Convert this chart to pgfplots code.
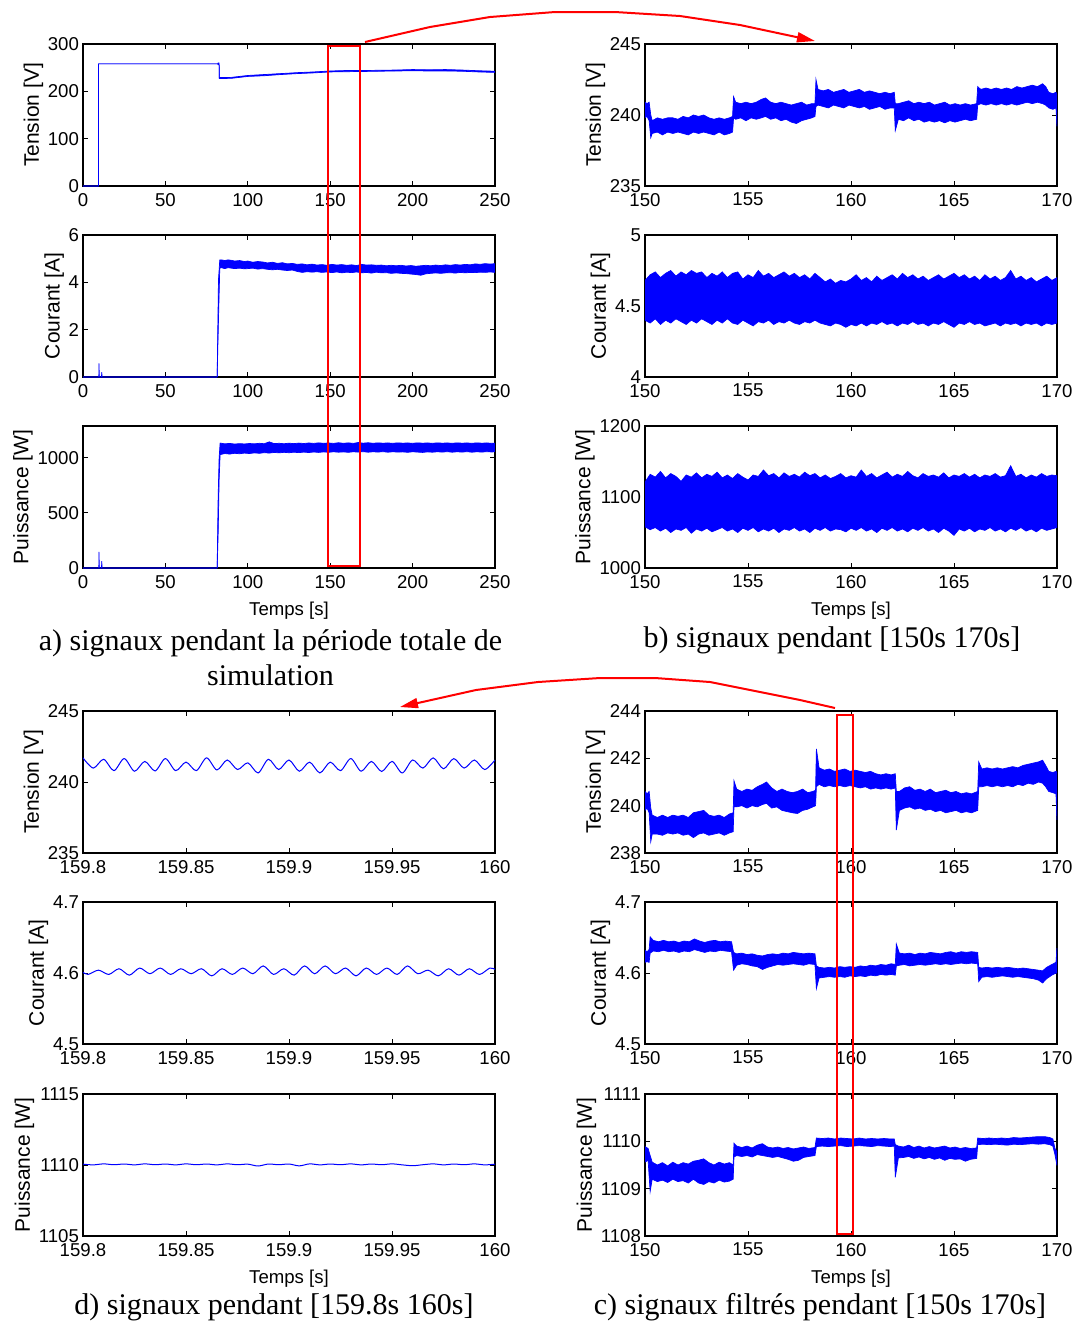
\documentclass[border=0pt]{standalone}
\usepackage{fontspec}
\setmainfont{Liberation Sans}
\newfontfamily\capfont{Liberation Serif}
\usepackage{pgfplots}
\usepackage{pgfplotstable}
\pgfplotsset{compat=1.18}
\usepgfplotslibrary{fillbetween}
\usetikzlibrary{arrows.meta}

\pgfplotsset{
  mat/.style={
    scale only axis, width=206pt, height=71pt, anchor=north west,
    axis line style={line width=0.6pt},
    tick align=inside, major tick length=2.5pt,
    every tick/.style={black, line width=0.5pt},
    ticklabel style={font=\fontsize{9.3}{11}\selectfont},
    yticklabel style={xshift=1.5pt},
    ylabel style={font=\fontsize{10.5}{12}\selectfont, yshift=-4.5pt},
    xlabel style={font=\fontsize{9.3}{11}\selectfont},
    scaled ticks=false,
    /pgf/number format/assume math mode=true,
    /pgf/number format/1000 sep={},
    /pgf/number format/fixed,
  },
}
\newcommand{\band}[1]{%
  \addplot[blue, line width=0.35pt, name path=H] table[x=t,y=h]{#1};
  \addplot[blue, line width=0.35pt, name path=L] table[x=t,y=l]{#1};
  \addplot[blue] fill between[of=H and L];
}

% ---------------- panel a ----------------
\pgfplotstableread{
t h l
0 0 0
9.4 0 0
9.45 258 258
81.8 258 258
82.0 260 256
82.6 260 256
82.7 229 227
90 229.5 227.5
100 233.5 231.5
110 235.5 233
120 237.5 235.5
130 239.5 237.5
140 241 239
150 243 241
160 244 241.5
170 244 242
180 244.5 242.5
190 245 243
200 246 243.5
210 245.5 243
220 246 243
230 245 242.5
240 243.5 241
250 242.5 240
}\aT
\pgfplotstableread{
t h l
0 0 0
9.6 0 0
9.7 0.58 0
9.9 0 0
11.2 0 0
11.4 0.2 0
11.6 0 0
81.4 0 0
82.2 4.1 2.4
83.0 4.95 4.6
84 4.95 4.62
86 4.92 4.58
88 4.95 4.62
90 4.93 4.6
92 4.9 4.58
95 4.92 4.6
98 4.88 4.57
100 4.9 4.58
103 4.85 4.6
106 4.88 4.56
109 4.86 4.58
112 4.82 4.55
115 4.85 4.53
118 4.8 4.55
121 4.83 4.52
124 4.78 4.5
127 4.8 4.52
130 4.76 4.46
133 4.78 4.42
136 4.74 4.45
139 4.77 4.43
142 4.73 4.45
145 4.75 4.42
148 4.72 4.44
151 4.76 4.41
154 4.73 4.44
157 4.75 4.4
160 4.72 4.43
163 4.74 4.41
166 4.71 4.44
169 4.76 4.4
172 4.73 4.42
175 4.74 4.39
178 4.72 4.43
181 4.73 4.4
184 4.7 4.41
187 4.72 4.38
190 4.7 4.4
193 4.72 4.38
196 4.69 4.37
199 4.71 4.35
202 4.68 4.33
205 4.7 4.3
208 4.72 4.36
211 4.7 4.38
214 4.73 4.4
217 4.71 4.38
220 4.74 4.4
223 4.72 4.41
226 4.75 4.39
229 4.73 4.42
232 4.76 4.4
235 4.74 4.42
238 4.78 4.41
241 4.76 4.43
244 4.79 4.42
247 4.77 4.44
250 4.79 4.42
}\aC
\pgfplotstableread{
t h l
0 0 0
9.6 0 0
9.7 147 0
9.9 0 0
11.2 0 0
11.4 62 0
11.6 0 0
81.4 0 0
82.0 640 300
82.6 1000 800
83.2 1135 1030
86 1128 1040
89 1132 1035
92 1126 1042
95 1130 1038
98 1127 1044
101 1131 1040
104 1128 1046
107 1133 1042
110 1129 1048
113 1146 1044
116 1130 1050
119 1133 1046
122 1129 1051
125 1134 1047
128 1130 1052
131 1135 1048
134 1131 1053
137 1136 1049
140 1132 1054
143 1137 1050
146 1133 1055
149 1136 1051
152 1132 1056
155 1138 1052
158 1133 1055
161 1137 1051
164 1132 1056
167 1140 1053
170 1134 1057
173 1138 1052
176 1133 1056
179 1137 1053
182 1134 1057
185 1136 1052
188 1133 1056
191 1137 1053
194 1134 1055
197 1136 1051
200 1133 1056
203 1137 1053
206 1134 1050
209 1136 1055
212 1133 1052
215 1137 1056
218 1134 1053
221 1136 1057
224 1133 1052
227 1137 1056
230 1134 1053
233 1136 1057
236 1133 1052
239 1137 1056
242 1134 1053
245 1136 1057
248 1133 1054
250 1135 1056
}\aP

% ---------------- panel b ----------------
\pgfplotstableread{
t h l
150.0 240.9 239.8
150.1 240.8 239.9
150.2 240.9 239.6
150.28 240.0 238.4
150.35 239.6 238.7
150.6 239.8 238.8
150.85 239.7 238.6
151.1 239.8 238.8
151.35 239.8 238.7
151.6 239.7 238.8
151.85 239.9 238.7
152.1 239.8 238.6
152.35 240.0 238.8
152.6 239.9 238.7
152.85 240.0 238.8
153.1 239.8 238.7
153.35 239.7 238.6
153.6 239.8 238.8
153.85 239.7 238.6
154.1 239.8 238.7
154.25 239.9 238.8
154.3 241.3 239.8
154.4 240.9 239.7
154.65 240.8 239.8
154.9 240.9 239.6
155.15 240.8 239.8
155.4 240.9 239.7
155.65 241.1 239.8
155.85 241.2 239.9
156.1 240.9 239.7
156.35 240.8 239.8
156.6 240.9 239.6
156.85 240.8 239.7
157.1 240.7 239.5
157.35 240.8 239.4
157.6 240.9 239.6
157.85 240.7 239.7
158.1 240.8 239.8
158.25 240.8 239.9
158.3 242.5 240.6
158.4 241.8 240.7
158.65 241.7 240.6
158.9 241.8 240.5
159.15 241.6 240.7
159.4 241.7 240.6
159.65 241.8 240.5
159.9 241.6 240.7
160.15 241.7 240.6
160.4 241.8 240.5
160.65 241.6 240.6
160.9 241.7 240.4
161.15 241.6 240.5
161.4 241.5 240.6
161.65 241.6 240.4
161.9 241.5 240.5
162.1 241.6 240.5
162.15 240.8 238.9
162.3 240.8 239.7
162.55 240.9 239.6
162.8 241.0 239.8
163.05 240.8 239.6
163.3 240.9 239.7
163.55 240.8 239.5
163.8 240.9 239.6
164.05 240.7 239.5
164.3 240.8 239.6
164.55 240.9 239.45
164.8 240.7 239.6
165.05 240.8 239.5
165.3 240.7 239.6
165.55 240.8 239.7
165.8 240.7 239.6
166.1 240.8 239.7
166.15 242.0 240.7
166.3 241.8 240.8
166.55 241.9 240.7
166.8 241.8 240.8
167.05 241.9 240.7
167.3 241.8 240.8
167.55 241.9 240.7
167.8 241.8 240.8
168.05 242.0 240.7
168.3 241.9 240.8
168.55 242.0 240.9
168.8 242.1 240.8
169.05 242.0 240.9
169.3 242.2 240.8
169.45 242.0 240.7
169.6 241.6 240.5
169.8 241.5 240.4
169.95 241.6 240.5
170 241.4 239.2
}\bT
\pgfplotstableread{
t h l
150 4.68 4.40
150.25 4.72 4.38
150.5 4.74 4.41
150.75 4.70 4.37
151 4.73 4.40
151.25 4.75 4.38
151.5 4.71 4.41
151.75 4.74 4.39
152 4.72 4.37
152.25 4.75 4.40
152.5 4.73 4.38
152.75 4.74 4.41
153 4.70 4.39
153.25 4.73 4.37
153.5 4.71 4.40
153.75 4.74 4.38
154 4.70 4.41
154.25 4.73 4.38
154.5 4.74 4.37
154.75 4.69 4.40
155 4.72 4.38
155.25 4.70 4.36
155.5 4.75 4.39
155.75 4.71 4.38
156 4.73 4.40
156.25 4.70 4.37
156.5 4.72 4.39
156.75 4.74 4.38
157 4.71 4.40
157.25 4.73 4.38
157.5 4.70 4.37
157.75 4.72 4.39
158 4.69 4.38
158.25 4.73 4.40
158.5 4.70 4.38
158.75 4.67 4.37
159 4.69 4.36
159.25 4.66 4.38
159.5 4.68 4.37
159.75 4.67 4.35
160 4.69 4.37
160.25 4.72 4.36
160.5 4.68 4.38
160.75 4.70 4.36
161 4.67 4.38
161.25 4.71 4.37
161.5 4.68 4.39
161.75 4.70 4.37
162 4.72 4.38
162.25 4.69 4.36
162.5 4.73 4.38
162.75 4.70 4.37
163 4.72 4.39
163.25 4.69 4.37
163.5 4.71 4.38
163.75 4.68 4.36
164 4.70 4.38
164.25 4.72 4.37
164.5 4.69 4.39
164.75 4.71 4.37
165 4.73 4.35
165.25 4.70 4.38
165.5 4.72 4.37
165.75 4.69 4.39
166 4.71 4.37
166.25 4.68 4.38
166.5 4.72 4.36
166.75 4.69 4.37
167 4.71 4.38
167.25 4.68 4.36
167.5 4.70 4.38
167.75 4.75 4.37
168 4.69 4.38
168.25 4.71 4.36
168.5 4.68 4.38
168.75 4.70 4.37
169 4.67 4.38
169.25 4.69 4.36
169.5 4.71 4.38
169.75 4.68 4.37
170 4.70 4.38
}\bC
\pgfplotstableread{
t h l
150 1121 1058
150.25 1132 1054
150.5 1128 1057
150.75 1136 1052
151 1127 1056
151.25 1133 1050
151.5 1129 1055
151.75 1122 1053
152 1131 1057
152.25 1128 1049
152.5 1134 1055
152.75 1127 1052
153 1132 1056
153.25 1129 1051
153.5 1135 1054
153.75 1127 1057
154 1131 1052
154.25 1126 1055
154.5 1133 1050
154.75 1128 1056
155 1124 1053
155.25 1131 1057
155.5 1129 1051
155.75 1138 1055
156 1130 1052
156.25 1133 1056
156.5 1127 1050
156.75 1134 1055
157 1129 1053
157.25 1132 1057
157.5 1128 1052
157.75 1135 1055
158 1130 1050
158.25 1133 1056
158.5 1127 1053
158.75 1131 1057
159 1126 1052
159.25 1129 1055
159.5 1133 1054
159.75 1127 1051
160 1130 1056
160.25 1128 1053
160.5 1138 1057
160.75 1129 1052
161 1133 1055
161.25 1127 1050
161.5 1131 1056
161.75 1135 1053
162 1128 1057
162.25 1132 1052
162.5 1129 1055
162.75 1136 1051
163 1130 1056
163.25 1127 1053
163.5 1133 1057
163.75 1129 1052
164 1131 1055
164.25 1128 1050
164.5 1134 1056
164.75 1127 1052
165 1131 1046
165.25 1129 1055
165.5 1133 1052
165.75 1128 1056
166 1132 1051
166.25 1127 1055
166.5 1131 1053
166.75 1129 1057
167 1133 1052
167.25 1128 1055
167.5 1130 1051
167.75 1144 1056
168 1129 1053
168.25 1132 1057
168.5 1127 1052
168.75 1131 1055
169 1128 1051
169.25 1133 1056
169.5 1129 1053
169.75 1131 1055
170 1130 1057
}\bP

% ---------------- panel c ----------------
\pgfplotstableread{
t h l
150.0 240.6 239.8
150.1 240.5 239.9
150.2 240.6 239.7
150.28 239.9 238.48
150.35 239.6 238.8
150.6 239.5 238.8
150.85 239.6 238.75
151.1 239.5 238.85
151.35 239.6 238.8
151.6 239.55 238.85
151.85 239.6 238.75
152.1 239.5 238.8
152.35 239.7 238.65
152.6 239.75 238.8
152.85 239.8 238.85
153.1 239.6 238.75
153.35 239.55 238.8
153.6 239.6 238.85
153.85 239.5 238.75
154.1 239.65 238.85
154.28 239.7 238.9
154.32 241.05 239.95
154.45 240.7 239.95
154.7 240.6 240.0
154.95 240.7 239.9
155.2 240.65 240.0
155.45 240.8 239.95
155.7 240.9 240.05
155.9 241.0 240.1
156.15 240.75 239.9
156.4 240.6 239.95
156.65 240.7 239.8
156.9 240.6 239.75
157.15 240.55 239.7
157.4 240.6 239.67
157.65 240.7 239.8
157.9 240.55 239.85
158.15 240.6 239.95
158.28 240.65 240.0
158.32 242.4 240.8
158.45 241.6 240.9
158.7 241.5 240.8
158.95 241.55 240.85
159.2 241.45 240.8
159.45 241.5 240.85
159.7 241.55 240.8
159.95 241.45 240.85
160.2 241.5 240.8
160.45 241.45 240.75
160.7 241.4 240.8
160.95 241.45 240.7
161.2 241.35 240.75
161.45 241.3 240.7
161.7 241.35 240.75
161.95 241.3 240.7
162.15 241.35 240.75
162.2 240.6 238.97
162.35 240.6 239.8
162.6 240.75 239.9
162.85 240.8 239.95
163.1 240.65 239.85
163.35 240.7 239.9
163.6 240.6 239.8
163.85 240.7 239.85
164.1 240.55 239.75
164.35 240.6 239.8
164.6 240.65 239.7
164.85 240.55 239.75
165.1 240.6 239.8
165.35 240.5 239.7
165.6 240.55 239.75
165.85 240.5 239.7
166.15 240.6 239.8
166.2 241.85 240.8
166.35 241.55 240.8
166.6 241.6 240.85
166.85 241.55 240.8
167.1 241.6 240.85
167.35 241.55 240.8
167.6 241.6 240.85
167.85 241.65 240.8
168.1 241.6 240.9
168.35 241.7 240.85
168.6 241.75 240.95
168.85 241.8 240.9
169.1 241.85 241.0
169.3 241.92 240.95
169.45 241.7 240.8
169.6 241.45 240.6
169.8 241.4 240.55
169.95 241.45 240.5
170 241.4 239.4
}\cT
\pgfplotstableread{
t h l
150.0 4.632 4.615
150.1 4.630 4.616
150.2 4.633 4.615
150.25 4.651 4.628
150.4 4.646 4.631
150.65 4.644 4.630
150.9 4.646 4.632
151.15 4.644 4.630
151.4 4.645 4.631
151.65 4.643 4.629
151.9 4.645 4.631
152.15 4.644 4.630
152.4 4.648 4.633
152.65 4.645 4.631
152.9 4.643 4.629
153.15 4.645 4.631
153.4 4.646 4.630
153.65 4.644 4.632
153.9 4.645 4.631
154.2 4.644 4.630
154.3 4.629 4.604
154.45 4.627 4.611
154.7 4.628 4.613
154.95 4.626 4.612
155.2 4.627 4.610
155.45 4.625 4.609
155.7 4.624 4.605
155.95 4.626 4.608
156.2 4.627 4.610
156.45 4.626 4.612
156.7 4.628 4.611
156.95 4.627 4.612
157.2 4.629 4.613
157.45 4.628 4.612
157.7 4.627 4.611
157.95 4.628 4.613
158.25 4.627 4.612
158.32 4.610 4.578
158.45 4.608 4.593
158.7 4.607 4.594
158.95 4.608 4.595
159.2 4.607 4.594
159.45 4.609 4.595
159.7 4.608 4.594
159.95 4.609 4.596
160.2 4.608 4.595
160.45 4.610 4.596
160.7 4.609 4.595
160.95 4.611 4.597
161.2 4.610 4.596
161.45 4.612 4.598
161.7 4.611 4.597
161.95 4.613 4.598
162.15 4.612 4.597
162.2 4.641 4.610
162.35 4.628 4.611
162.6 4.627 4.612
162.85 4.628 4.610
163.1 4.626 4.611
163.35 4.628 4.612
163.6 4.627 4.611
163.85 4.629 4.612
164.1 4.628 4.613
164.35 4.627 4.612
164.6 4.629 4.613
164.85 4.630 4.612
165.1 4.628 4.613
165.35 4.630 4.614
165.6 4.629 4.613
165.85 4.630 4.614
166.15 4.629 4.613
166.2 4.608 4.588
166.35 4.607 4.594
166.6 4.608 4.595
166.85 4.607 4.594
167.1 4.608 4.595
167.35 4.607 4.596
167.6 4.608 4.595
167.85 4.607 4.594
168.1 4.606 4.595
168.35 4.607 4.594
168.6 4.606 4.593
168.85 4.605 4.592
169.1 4.604 4.590
169.3 4.603 4.586
169.5 4.608 4.592
169.75 4.612 4.597
169.95 4.615 4.600
170 4.635 4.600
}\cC
\pgfplotstableread{
t h l
150.0 1109.89 1109.56
150.15 1109.85 1109.6
150.25 1109.7 1108.94
150.35 1109.56 1109.2
150.6 1109.5 1109.15
150.85 1109.55 1109.18
151.1 1109.48 1109.13
151.35 1109.56 1109.2
151.6 1109.5 1109.15
151.85 1109.55 1109.17
152.1 1109.52 1109.12
152.35 1109.58 1109.2
152.6 1109.6 1109.12
152.85 1109.63 1109.09
153.1 1109.55 1109.15
153.35 1109.5 1109.12
153.6 1109.56 1109.18
153.85 1109.52 1109.14
154.1 1109.55 1109.16
154.28 1109.5 1109.2
154.32 1109.96 1109.67
154.45 1109.9 1109.7
154.7 1109.87 1109.68
154.95 1109.9 1109.7
155.2 1109.86 1109.67
155.45 1109.92 1109.72
155.7 1109.95 1109.7
155.95 1109.88 1109.68
156.2 1109.86 1109.66
156.45 1109.88 1109.68
156.7 1109.85 1109.65
156.95 1109.87 1109.62
157.2 1109.84 1109.58
157.45 1109.86 1109.6
157.7 1109.88 1109.66
157.95 1109.85 1109.68
158.25 1109.87 1109.7
158.32 1110.07 1109.89
158.6 1110.06 1109.9
158.9 1110.07 1109.89
159.2 1110.05 1109.9
159.5 1110.07 1109.91
159.8 1110.06 1109.89
160.1 1110.05 1109.9
160.4 1110.07 1109.91
160.7 1110.05 1109.9
161.0 1110.06 1109.89
161.3 1110.05 1109.91
161.6 1110.06 1109.9
161.9 1110.05 1109.89
162.1 1110.05 1109.9
162.15 1109.93 1109.24
162.3 1109.9 1109.65
162.55 1109.88 1109.66
162.8 1109.92 1109.68
163.05 1109.87 1109.64
163.3 1109.9 1109.67
163.55 1109.86 1109.63
163.8 1109.89 1109.66
164.05 1109.86 1109.62
164.3 1109.88 1109.65
164.55 1109.9 1109.6
164.8 1109.86 1109.64
165.05 1109.88 1109.62
165.3 1109.85 1109.63
165.55 1109.87 1109.58
165.8 1109.85 1109.62
166.1 1109.86 1109.64
166.15 1110.07 1109.93
166.4 1110.06 1109.94
166.7 1110.07 1109.93
167.0 1110.06 1109.94
167.3 1110.07 1109.93
167.6 1110.06 1109.92
167.9 1110.08 1109.94
168.2 1110.07 1109.93
168.5 1110.08 1109.94
168.8 1110.09 1109.95
169.1 1110.1 1109.94
169.4 1110.1 1109.95
169.65 1110.08 1109.93
169.8 1110.05 1109.9
169.9 1109.85 1109.72
170 1109.78 1109.49
}\cP

% ---------------- panel d ----------------
\pgfplotstableread{
t v
159.800 241.70
159.805 240.98
159.810 241.60
159.815 240.80
159.820 241.65
159.825 240.76
159.830 241.45
159.835 240.78
159.840 241.65
159.845 240.80
159.850 241.40
159.855 240.80
159.860 241.70
159.865 240.85
159.870 241.55
159.875 240.88
159.880 241.35
159.885 240.64
159.890 241.60
159.895 240.88
159.900 241.55
159.905 240.76
159.910 241.40
159.915 240.64
159.920 241.40
159.925 240.80
159.930 241.65
159.935 240.76
159.940 241.45
159.945 240.74
159.950 241.45
159.955 240.64
159.960 241.55
159.965 240.98
159.970 241.70
159.975 240.93
159.980 241.65
159.985 240.98
159.990 241.55
159.995 240.88
160.000 241.55
}\dT
\pgfplotstableread{
t v
159.8000 4.601
159.8025 4.598
159.8075 4.604
159.8125 4.598
159.8175 4.606
159.8225 4.597
159.8275 4.607
159.8325 4.599
159.8375 4.607
159.8425 4.598
159.8475 4.606
159.8525 4.599
159.8575 4.606
159.8625 4.596
159.8675 4.606
159.8725 4.598
159.8775 4.607
159.8825 4.599
159.8875 4.610
159.8925 4.598
159.8975 4.606
159.9025 4.597
159.9075 4.610
159.9125 4.599
159.9175 4.610
159.9225 4.599
159.9275 4.607
159.9325 4.596
159.9375 4.607
159.9425 4.598
159.9475 4.607
159.9525 4.598
159.9575 4.610
159.9625 4.599
159.9675 4.604
159.9725 4.596
159.9775 4.606
159.9825 4.597
159.9875 4.606
159.9925 4.598
159.9975 4.607
160.0000 4.605
}\dC
\pgfplotstableread{
t v
159.800 1110.06
159.805 1110.01
159.810 1110.08
159.815 1110.02
159.820 1110.07
159.825 1110.01
159.830 1110.08
159.835 1110.02
159.840 1110.07
159.845 1110.01
159.850 1110.08
159.855 1110.02
159.860 1110.07
159.865 1110.01
159.870 1110.08
159.875 1110.02
159.880 1110.06
159.885 1109.93
159.890 1110.07
159.895 1110.02
159.900 1110.07
159.905 1109.94
159.910 1110.08
159.915 1110.01
159.920 1110.07
159.925 1110.02
159.930 1110.08
159.935 1110.01
159.940 1110.07
159.945 1110.02
159.950 1110.08
159.955 1110.01
159.960 1109.95
159.965 1110.02
159.970 1110.08
159.975 1110.01
159.980 1110.07
159.985 1110.02
159.990 1110.08
159.995 1110.01
160.000 1110.06
}\dP

\begin{document}
\begin{tikzpicture}

% ===== a =====
\begin{axis}[mat, at={(41.5pt,-22pt)}, xmin=0, xmax=250, ymin=0, ymax=300,
  xtick={0,50,100,150,200,250}, ytick={0,100,200,300}, ylabel={Tension [V]}]
\band{\aT}
\end{axis}
\begin{axis}[mat, at={(41.5pt,-117.5pt)}, xmin=0, xmax=250, ymin=0, ymax=6,
  xtick={0,50,100,150,200,250}, ytick={0,2,4,6}, ylabel={Courant [A]}]
\band{\aC}
\end{axis}
\begin{axis}[mat, at={(41.5pt,-213pt)}, xmin=0, xmax=250, ymin=0, ymax=1290,
  xtick={0,50,100,150,200,250}, ytick={0,500,1000}, ylabel={Puissance [W]}, xlabel={Temps [s]}]
\band{\aP}
\end{axis}

% ===== b =====
\begin{axis}[mat, at={(322.5pt,-22pt)}, xmin=150, xmax=170, ymin=235, ymax=245,
  xtick={150,155,160,165,170}, ytick={235,240,245}, ylabel={Tension [V]}]
\band{\bT}
\end{axis}
\begin{axis}[mat, at={(322.5pt,-117.5pt)}, xmin=150, xmax=170, ymin=4, ymax=5,
  xtick={150,155,160,165,170}, ytick={4,4.5,5}, ylabel={Courant [A]}]
\band{\bC}
\end{axis}
\begin{axis}[mat, at={(322.5pt,-213pt)}, xmin=150, xmax=170, ymin=1000, ymax=1200,
  xtick={150,155,160,165,170}, ytick={1000,1100,1200}, ylabel={Puissance [W]}, xlabel={Temps [s]}]
\band{\bP}
\end{axis}

% ===== d =====
\begin{axis}[mat, at={(41.5pt,-355.5pt)}, xmin=159.8, xmax=160, ymin=235, ymax=245,
  xtick={159.8,159.85,159.9,159.95,160}, ytick={235,240,245}, ylabel={Tension [V]}]
\addplot[blue, line width=0.5pt, smooth] table[x=t,y=v]{\dT};
\end{axis}
\begin{axis}[mat, at={(41.5pt,-451pt)}, xmin=159.8, xmax=160, ymin=4.5, ymax=4.7,
  xtick={159.8,159.85,159.9,159.95,160}, ytick={4.5,4.6,4.7}, ylabel={Courant [A]}]
\addplot[blue, line width=0.5pt, smooth] table[x=t,y=v]{\dC};
\end{axis}
\begin{axis}[mat, at={(41.5pt,-547pt)}, xmin=159.8, xmax=160, ymin=1105, ymax=1115,
  xtick={159.8,159.85,159.9,159.95,160}, ytick={1105,1110,1115}, ylabel={Puissance [W]}, xlabel={Temps [s]}]
\addplot[blue, line width=0.5pt, smooth] table[x=t,y=v]{\dP};
\end{axis}

% ===== c =====
\begin{axis}[mat, at={(322.5pt,-355.5pt)}, xmin=150, xmax=170, ymin=238, ymax=244,
  xtick={150,155,160,165,170}, ytick={238,240,242,244}, ylabel={Tension [V]}]
\band{\cT}
\end{axis}
\begin{axis}[mat, at={(322.5pt,-451pt)}, xmin=150, xmax=170, ymin=4.5, ymax=4.7,
  xtick={150,155,160,165,170}, ytick={4.5,4.6,4.7}, ylabel={Courant [A]}]
\band{\cC}
\end{axis}
\begin{axis}[mat, at={(322.5pt,-547pt)}, xmin=150, xmax=170, ymin=1108, ymax=1111,
  xtick={150,155,160,165,170}, ytick={1108,1109,1110,1111}, ylabel={Puissance [W]}, xlabel={Temps [s]}]
\band{\cP}
\end{axis}

% ===== annotations =====
\draw[red, line width=1.2pt] (164pt,-23pt) rectangle (180pt,-283pt);
\draw[red, line width=1.2pt] (418.5pt,-357.5pt) rectangle (426.5pt,-617pt);
\draw[red, line width=1pt, -{Triangle[length=9pt,width=5pt]}]
  (182.5pt,-21pt) -- (215pt,-13.5pt) -- (245pt,-8.5pt) -- (277.5pt,-6pt) -- (307.5pt,-6pt)
  -- (340pt,-8pt) -- (370pt,-12.5pt) -- (407.5pt,-20.5pt);
\draw[red, line width=1pt, -{Triangle[length=9pt,width=5pt]}]
  (417.5pt,-354pt) -- (400pt,-350pt) -- (355pt,-341pt) -- (327.5pt,-339pt) -- (300pt,-339pt)
  -- (269pt,-341pt) -- (238pt,-345pt) -- (200pt,-353.5pt);

% ===== captions =====
\node[font=\capfont\fontsize{15}{17.5}\selectfont, align=center, inner sep=0pt] at (135.25pt,-328.75pt)
  {a) signaux pendant la période totale de\\simulation};
\node[font=\capfont\fontsize{15}{17.5}\selectfont, inner sep=0pt] at (416pt,-320pt) {b) signaux pendant [150s 170s]};
\node[font=\capfont\fontsize{15}{17.5}\selectfont, inner sep=0pt] at (137pt,-653.5pt) {d) signaux pendant [159.8s 160s]};
\node[font=\capfont\fontsize{15}{17.5}\selectfont, inner sep=0pt] at (410pt,-653.5pt) {c) signaux filtrés pendant [150s 170s]};

\pgfresetboundingbox
\useasboundingbox (0,0) rectangle (540.5pt,-662pt);
\end{tikzpicture}
\end{document}
